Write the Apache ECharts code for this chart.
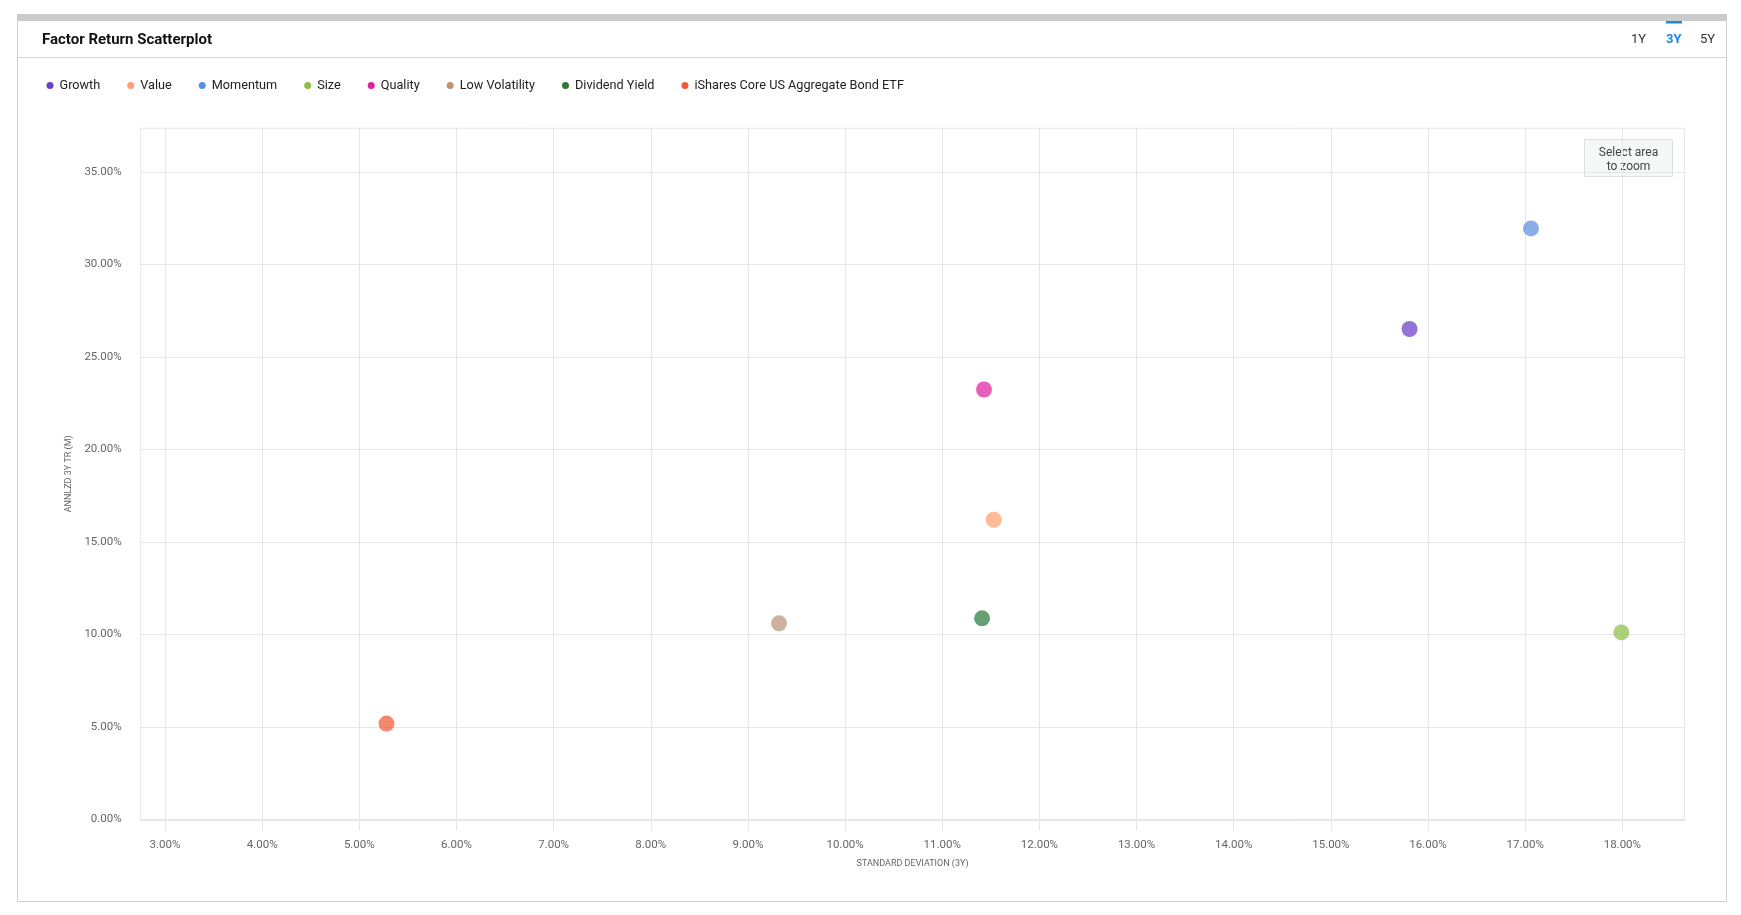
<!DOCTYPE html>
<html>
<head>
<meta charset="utf-8">
<title>Factor Return Scatterplot</title>
<script src="https://cdn.jsdelivr.net/npm/echarts@6/dist/echarts.min.js"></script>
<style>
  html, body { margin: 0; padding: 0; background: #fff; }
  #chart { width: 1741px; height: 915px; }
</style>
</head>
<body>
<div id="chart"></div>
<script>
// factor names, in legend order
const factorNames = [
  'Growth',
  'Value',
  'Momentum',
  'Size',
  'Quality',
  'Low Volatility',
  'Dividend Yield',
  'iShares Core US Aggregate Bond ETF',
];
// standard deviation (3Y), %
const stdDevValues = [15.81, 11.53, 17.06, 17.99, 11.43, 9.32, 11.41, 5.28];
// annualized 3Y total return, %
const returnValues = [26.51, 16.2, 31.95, 10.11, 23.24, 10.6, 10.87, 5.18];
const factorColors = [
  '#6a3ccc',
  '#ffa070',
  '#5b8fe0',
  '#8dc04b',
  '#e0209f',
  '#b89478',
  '#2b7a3b',
  '#f05a35',
];
// tick labels
const xTickValues = [3, 4, 5, 6, 7, 8, 9, 10, 11, 12, 13, 14, 15, 16, 17, 18];
const yTickValues = [0, 5, 10, 15, 20, 25, 30, 35];
const periodLabels = ['1Y', '3Y', '5Y'];

const FONT = 'Roboto, "Noto Sans", sans-serif';
const pct = v => `${Number(v).toFixed(2)}%`;

const chart = echarts.init(document.getElementById('chart'), null, { renderer: 'canvas' });

const series = factorNames.map((name, i) => ({
  name,
  type: 'scatter',
  symbol: 'circle',
  symbolSize: 16,
  itemStyle: { color: factorColors[i], opacity: 0.72 },
  emphasis: { scale: false },
  data: [[stdDevValues[i], returnValues[i]]],
}));

// 1Y / 3Y / 5Y switch in the header
const periodX = [1639, 1674, 1708];
const periodGraphics = periodLabels.map((label, i) => ({
  type: 'text',
  left: periodX[i] - 8,
  top: 33,
  style: {
    text: label,
    fill: label === '3Y' ? '#1e88e5' : '#333',
    font: `${label === '3Y' ? 'bold ' : ''}13px ${FONT}`,
  },
}));

const option = {
  animation: false,
  backgroundColor: '#fff',
  textStyle: { fontFamily: FONT },
  graphic: [
    // panel
    {
      type: 'rect',
      shape: { x: 17.5, y: 14.5, width: 1709, height: 887 },
      style: { fill: '#fff', stroke: '#cfcfcf', lineWidth: 1 },
      z: -10,
    },
    {
      type: 'rect',
      shape: { x: 17, y: 14, width: 1710, height: 7 },
      style: { fill: '#cbcbcb' },
      z: -9,
    },
    {
      type: 'line',
      shape: { x1: 18, y1: 57.5, x2: 1726, y2: 57.5 },
      style: { stroke: '#d4d4d4', lineWidth: 1 },
      z: -9,
    },
    {
      type: 'text',
      left: 42,
      top: 33,
      style: { text: 'Factor Return Scatterplot', fill: '#111', font: `bold 15px ${FONT}` },
    },
    {
      type: 'rect',
      shape: { x: 1666, y: 21, width: 16, height: 2.5 },
      style: { fill: '#1e88e5' },
    },
    ...periodGraphics,
    // zoom hint box
    {
      type: 'group',
      left: 1584,
      top: 139,
      children: [
        {
          type: 'rect',
          shape: { x: 0.5, y: 0.5, width: 88, height: 37 },
          style: { fill: '#f6f7f7', stroke: '#dedede', lineWidth: 1 },
        },
        {
          type: 'text',
          x: 44.5,
          y: 13.5,
          style: {
            text: 'Select area',
            fill: '#444',
            font: `12px ${FONT}`,
            align: 'center',
            verticalAlign: 'middle',
          },
        },
        {
          type: 'text',
          x: 44.5,
          y: 27.5,
          style: {
            text: 'to zoom',
            fill: '#444',
            font: `12px ${FONT}`,
            align: 'center',
            verticalAlign: 'middle',
          },
        },
      ],
      z: 20,
    },
  ],
  legend: {
    data: factorNames,
    left: 41.5,
    top: 74,
    icon: 'circle',
    itemWidth: 7,
    itemHeight: 7,
    itemGap: 27,
    itemStyle: { opacity: 1 },
    textStyle: { fontSize: 12.7, color: '#222', fontFamily: FONT, padding: [0, 0, 0, 1] },
    selectedMode: false,
  },
  grid: {
    left: 140.7,
    right: 56.5,
    top: 128.3,
    bottom: 95.6,
    show: true,
    borderColor: '#e6e6e6',
    borderWidth: 1,
    containLabel: false,
  },
  xAxis: {
    type: 'value',
    min: 2.75,
    max: 18.64,
    name: 'STANDARD DEVIATION (3Y)',
    nameLocation: 'middle',
    nameGap: 40,
    nameTextStyle: { fontSize: 9, color: '#666', fontFamily: FONT },
    axisLine: { show: true, lineStyle: { color: '#e6e6e6', width: 2 } },
    axisTick: { show: true, length: 11, lineStyle: { color: '#e6e6e6' }, customValues: xTickValues },
    axisLabel: {
      customValues: xTickValues,
      formatter: pct,
      fontSize: 11.5,
      color: '#666',
      margin: 20,
      fontFamily: FONT,
    },
    splitLine: { show: true, lineStyle: { color: '#e6e6e6', width: 1 } },
  },
  yAxis: {
    type: 'value',
    min: 0,
    max: 37.36,
    name: 'ANNLZD 3Y TR (M)',
    nameLocation: 'middle',
    nameGap: 66,
    nameRotate: 90,
    nameTextStyle: { fontSize: 9, color: '#666', fontFamily: FONT },
    axisLine: { show: false },
    axisTick: { show: false, customValues: yTickValues },
    axisLabel: {
      customValues: yTickValues,
      formatter: pct,
      fontSize: 11.5,
      color: '#666',
      margin: 19,
      fontFamily: FONT,
    },
    splitLine: { show: true, lineStyle: { color: '#e6e6e6', width: 1 } },
  },
  series,
};

chart.setOption(option);
</script>
</body>
</html>
